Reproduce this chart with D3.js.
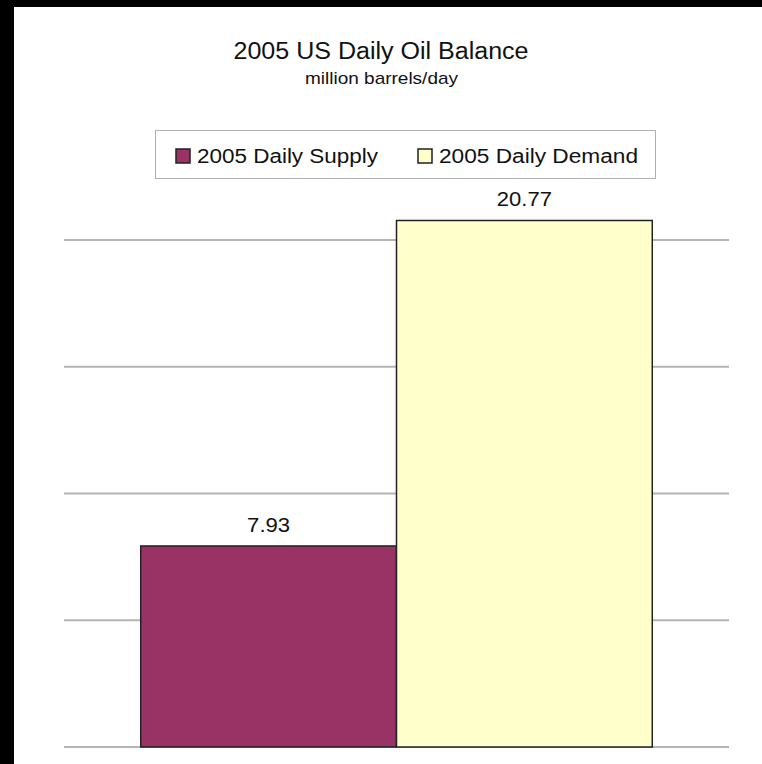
<!DOCTYPE html>
<html lang="en">
<head>
    <meta charset="UTF-8" />
    <title>2005 US Daily Oil Balance</title>
    <script src="https://d3js.org/d3.v7.min.js"></script>
    <style>
        html, body {
            margin: 0;
            padding: 0;
            overflow: hidden;
            background-color: #fff;
        }
        svg {
            display: block;
        }
        text {
            font-family: "Liberation Sans", Arial, sans-serif;
            fill: #111;
        }
    </style>
</head>
<body>
    <svg id="chart" width="762" height="764"></svg>
    <script>
        // data
        var series = ["2005 Daily Supply", "2005 Daily Demand"];
        var values = [7.93, 20.77];
        var labels = ["7.93", "20.77"];
        var colors = ["#993366", "#FFFFCC"];
        var gridTicks = [0, 5, 10, 15, 20];

        var w = 762, h = 764;
        var svg = d3.select("#chart");

        // black frame on the top and left edges (the rest is white page)
        svg.append("rect")
            .attr("x", 0).attr("y", 0)
            .attr("width", w).attr("height", 7)
            .attr("fill", "#000");
        svg.append("rect")
            .attr("x", 0).attr("y", 0)
            .attr("width", 14).attr("height", h)
            .attr("fill", "#000");

        // plot area (note: "top" is reserved on window, so use plotTop)
        var plotLeft = 64, plotRight = 729, plotTop = 240, plotBottom = 747;

        var yScale = d3.scaleLinear()
            .domain([0, 20])
            .range([plotBottom, plotTop]);

        var xScale = d3.scaleBand()
            .domain(series)
            .range([plotLeft, plotRight])
            .paddingInner(0)
            .paddingOuter(0.3);

        // gridlines
        svg.selectAll("line.grid")
            .data(gridTicks)
            .enter()
            .append("line")
            .attr("class", "grid")
            .attr("x1", plotLeft)
            .attr("x2", plotRight)
            .attr("y1", d => yScale(d))
            .attr("y2", d => yScale(d))
            .attr("stroke", "#b4b4b4")
            .attr("stroke-width", 2);

        // bars
        svg.selectAll("rect.bar")
            .data(values)
            .enter()
            .append("rect")
            .attr("class", "bar")
            .attr("x", (d, i) => xScale(series[i]))
            .attr("y", d => yScale(d))
            .attr("width", xScale.bandwidth())
            .attr("height", d => yScale(0) - yScale(d))
            .attr("fill", (d, i) => colors[i])
            .attr("stroke", "#222")
            .attr("stroke-width", 1.5);

        // value labels (text is slightly stretched horizontally like the original)
        var labelWidths = [43, 55];
        svg.selectAll("text.value")
            .data(values)
            .enter()
            .append("text")
            .attr("class", "value")
            .attr("x", (d, i) => xScale(series[i]) + xScale.bandwidth() / 2)
            .attr("y", d => yScale(d) - 14)
            .attr("text-anchor", "middle")
            .attr("textLength", (d, i) => labelWidths[i])
            .attr("lengthAdjust", "spacingAndGlyphs")
            .style("font-size", "20px")
            .text((d, i) => labels[i]);

        // title
        svg.append("text")
            .attr("x", 381)
            .attr("y", 59)
            .attr("text-anchor", "middle")
            .attr("textLength", 295)
            .attr("lengthAdjust", "spacingAndGlyphs")
            .style("font-size", "23px")
            .text("2005 US Daily Oil Balance");

        svg.append("text")
            .attr("x", 381.5)
            .attr("y", 84)
            .attr("text-anchor", "middle")
            .attr("textLength", 153)
            .attr("lengthAdjust", "spacingAndGlyphs")
            .style("font-size", "17px")
            .text("million barrels/day");

        // legend
        var legend = svg.append("g");
        legend.append("rect")
            .attr("x", 155.5).attr("y", 130.5)
            .attr("width", 500).attr("height", 48)
            .attr("fill", "#fff")
            .attr("stroke", "#b0b0b0");

        var legX = [176, 418];
        var legW = [181, 199];
        var items = legend.selectAll("g.item")
            .data(series)
            .enter()
            .append("g")
            .attr("class", "item")
            .attr("transform", (d, i) => "translate(" + legX[i] + ",149)");

        items.append("rect")
            .attr("width", 14).attr("height", 14)
            .attr("fill", (d, i) => colors[i])
            .attr("stroke", "#222")
            .attr("stroke-width", 1.5);

        items.append("text")
            .attr("x", 21)
            .attr("y", 14)
            .attr("textLength", (d, i) => legW[i])
            .attr("lengthAdjust", "spacingAndGlyphs")
            .style("font-size", "20px")
            .text(d => d);
    </script>
</body>
</html>
